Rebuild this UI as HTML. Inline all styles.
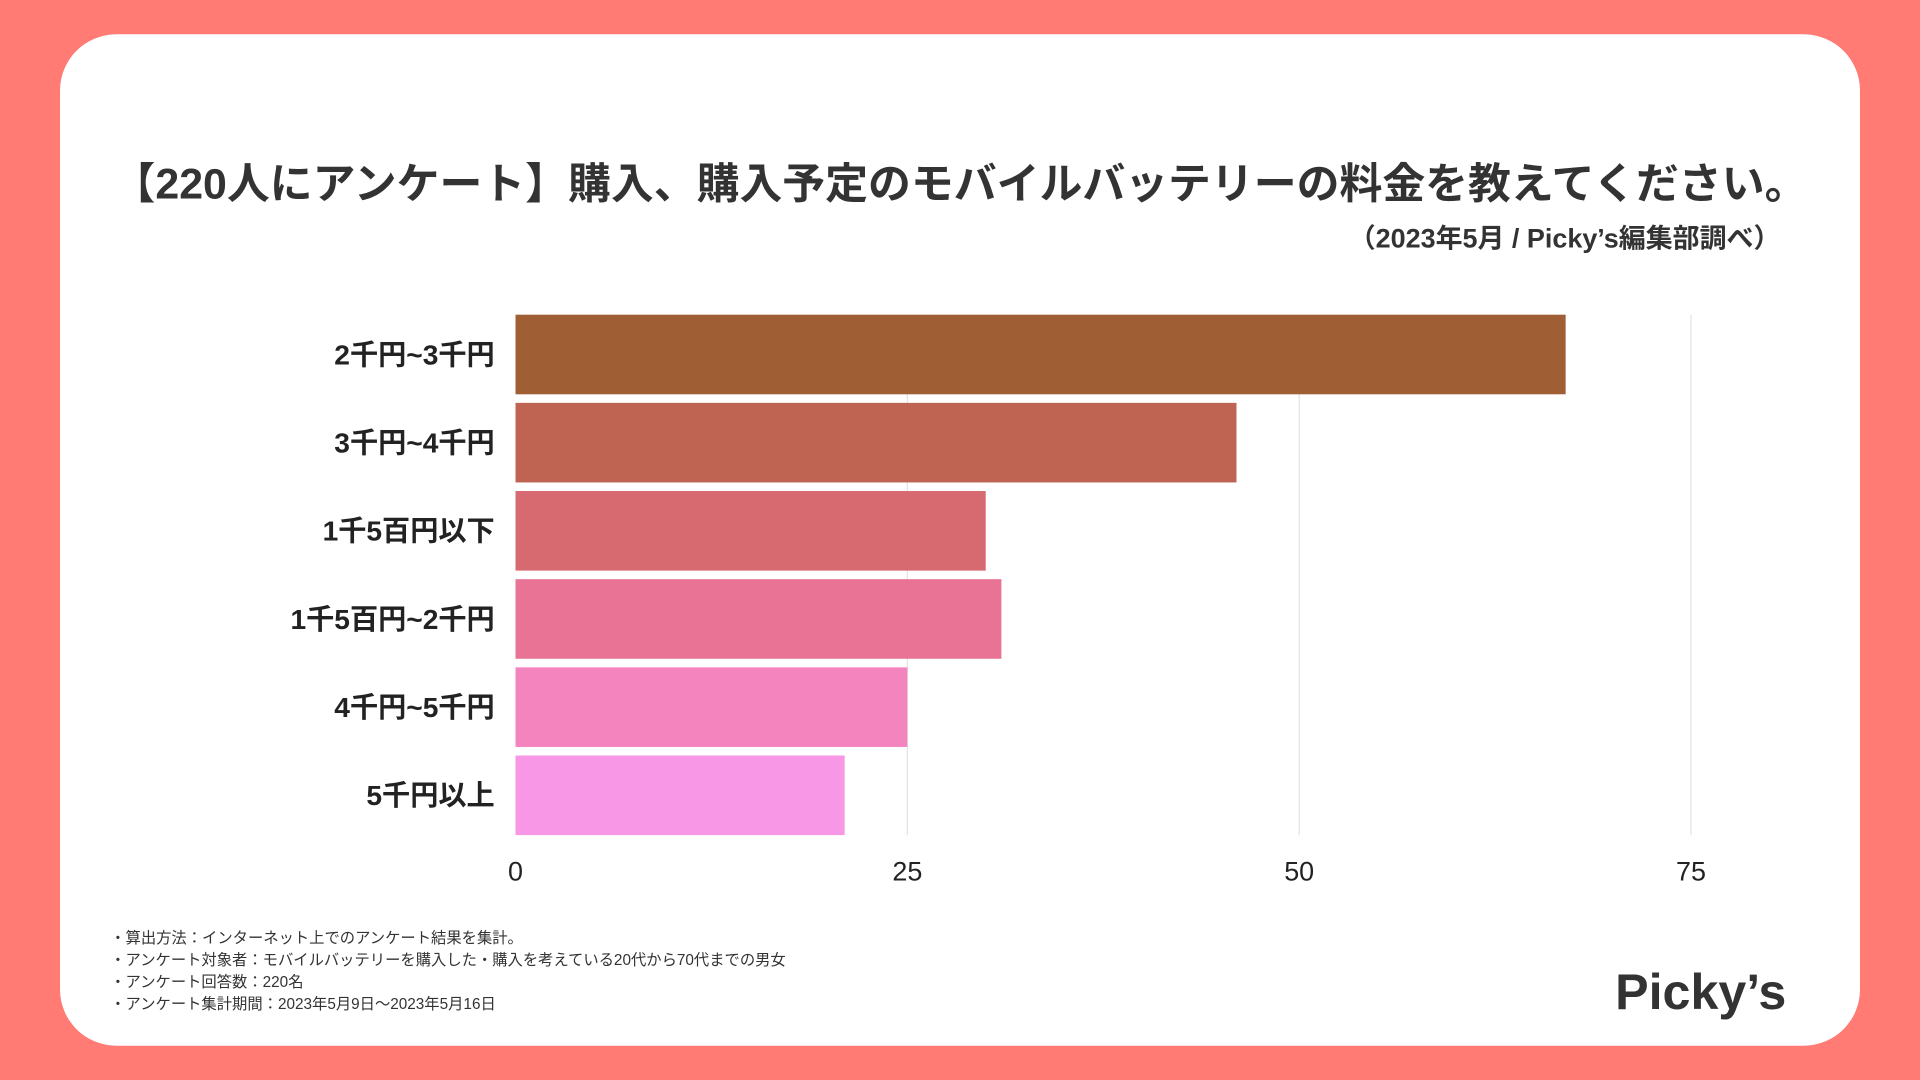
<!DOCTYPE html>
<html><head><meta charset="utf-8"><style>
html,body{margin:0;padding:0;width:1920px;height:1080px;overflow:hidden;background:#FF7B74}
#wrap{position:absolute;left:0;top:0;width:1568px;height:882px;transform:scale(1.22449);transform-origin:0 0;font-family:"Liberation Sans","Noto Sans CJK JP",sans-serif;color:#333}
#card{position:absolute;left:49px;top:28px;width:1470px;height:826px;background:#fff;border-radius:46px}
.t{position:absolute;white-space:nowrap}
</style></head><body>
<div id="wrap">
<div id="card"></div>
<div class="t" style="left:0;width:1568px;text-align:center;top:122px;font-size:35px;font-weight:bold;color:#333">【220人にアンケート】購入、購入予定のモバイルバッテリーの料金を教えてください。</div>
<div class="t" style="right:114px;top:177px;font-size:22px;font-weight:bold;color:#333">（2023年5月 / Picky’s編集部調べ）</div>
<svg id="chart" width="1568" height="882" style="position:absolute;left:0;top:0"></svg>
<div class="t" style="left:90px;top:757px;font-size:12.5px;line-height:18px;color:#333">・算出方法：インターネット上でのアンケート結果を集計。<br>・アンケート対象者：モバイルバッテリーを購入した・購入を考えている20代から70代までの男女<br>・アンケート回答数：220名<br>・アンケート集計期間：2023年5月9日〜2023年5月16日</div>
<div class="t" style="left:1319px;top:787px;font-size:41px;font-weight:bold;color:#333">Picky’s</div>
</div>
<script>
const categories=["2千円~3千円","3千円~4千円","1千5百円以下","1千5百円~2千円","4千円~5千円","5千円以上"];
const values=[67,46,30,31,25,21];
const ticks=[0,25,50,75];
const colors=["#A05E34","#BF6352","#D76A70","#E87395","#F484BD","#F797E6"];
const NS="http://www.w3.org/2000/svg";
const svg=document.getElementById('chart');
const x0=421,ppu=12.8,yTop=257,step=72,bh=65;
const xs=v=>x0+v*ppu;
const ys=i=>yTop+i*step;
function mk(t,a){const e=document.createElementNS(NS,t);for(const k in a)e.setAttribute(k,a[k]);svg.appendChild(e);return e;}
ticks.forEach(t=>{
 if(t>0){const g=mk('line',{x1:xs(t),x2:xs(t),y1:257,y2:682,stroke:'#e3e3e3','stroke-width':1});
 
 }
 const l=mk('text',{x:xs(t),y:719,'text-anchor':'middle','font-size':22,fill:'#222'});
 
 
 l.textContent=t;
});
categories.forEach((c,i)=>{
 const r=mk('rect',{x:x0,y:ys(i),width:xs(values[i])-x0,height:bh,fill:colors[i]});
 
 
 const l=mk('text',{x:404,y:ys(i)+bh/2+8,'text-anchor':'end','font-size':23,'font-weight':'bold',fill:'#222'});
 
 
 l.textContent=c;
});
</script>
</body></html>
